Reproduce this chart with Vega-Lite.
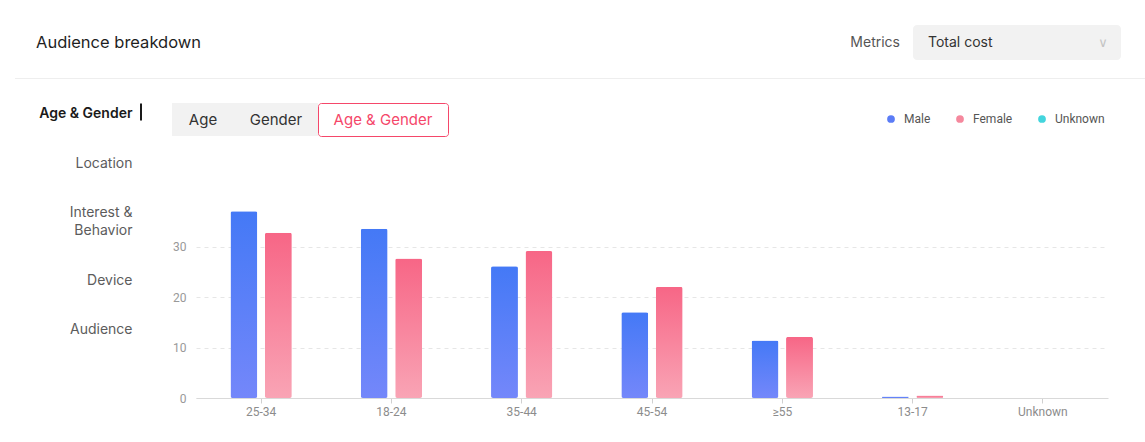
{
  "$schema": "https://vega.github.io/schema/vega-lite/v6.json",
  "background": "white",
  "padding": {"left": 15, "top": 25, "right": 0, "bottom": 0},
  "autosize": {"type": "pad"},
  "config": {
    "view": {"stroke": null},
    "font": "Inter",
    "axis": {"labelFont": "Roboto"},
    "legend": {"labelFont": "Roboto"}
  },
  "datasets": {
    "bars": [
      {"age": "25-34", "gender": "Male", "value": 37.0},
      {"age": "25-34", "gender": "Female", "value": 32.7},
      {"age": "18-24", "gender": "Male", "value": 33.5},
      {"age": "18-24", "gender": "Female", "value": 27.6},
      {"age": "35-44", "gender": "Male", "value": 26.1},
      {"age": "35-44", "gender": "Female", "value": 29.1},
      {"age": "45-54", "gender": "Male", "value": 17.0},
      {"age": "45-54", "gender": "Female", "value": 22.0},
      {"age": "≥55", "gender": "Male", "value": 11.4},
      {"age": "≥55", "gender": "Female", "value": 12.1},
      {"age": "13-17", "gender": "Male", "value": 0.3},
      {"age": "13-17", "gender": "Female", "value": 0.5},
      {"age": "Unknown", "gender": "Male", "value": 0},
      {"age": "Unknown", "gender": "Female", "value": 0}
    ],
    "nav": [
      {"item": "Age & Gender", "active": true},
      {"item": "Location", "active": false},
      {"item": "Interest & Behavior", "active": false},
      {"item": "Device", "active": false},
      {"item": "Audience", "active": false}
    ],
    "tabs": [
      {"tab": "Age", "active": false},
      {"tab": "Gender", "active": false},
      {"tab": "Age & Gender", "active": true}
    ]
  },
  "vconcat": [
    {
      "vconcat": [
        {
          "hconcat": [
            {
              "width": 42,
              "height": 35,
              "data": {"values": [{"label": "Audience breakdown"}]},
              "mark": {"type": "text", "align": "left", "baseline": "middle", "fontSize": 16.5, "font": "Inter", "color": "#1f1f1f"},
              "encoding": {"text": {"field": "label"}}
            },
            {
              "width": 208,
              "height": 35,
              "view": {"fill": "#F2F2F2", "stroke": null, "cornerRadius": 4},
              "title": {"text": "Metrics", "orient": "left", "angle": 0, "align": "left", "baseline": "middle", "fontSize": 14, "fontWeight": "normal", "color": "#555555", "font": "Inter", "offset": 13},
              "data": {"values": [{"metric": "Total cost", "arrow": "∨"}]},
              "layer": [
                {
                  "mark": {"type": "text", "align": "left", "baseline": "middle", "dx": -89, "fontSize": 14, "font": "Inter", "color": "#333333"},
                  "encoding": {"text": {"field": "metric"}}
                },
                {
                  "mark": {"type": "text", "align": "center", "baseline": "middle", "dx": 86, "fontSize": 13, "font": "DejaVu Sans", "color": "#C4C4C4"},
                  "encoding": {"text": {"field": "arrow"}}
                }
              ]
            }
          ],
          "spacing": 856,
          "bounds": "flush"
        },
        {
          "width": 1130,
          "height": 1,
          "view": {"fill": "#EEEEEE", "stroke": null},
          "data": {"values": []},
          "mark": "rect",
          "encoding": {}
        }
      ],
      "spacing": 18,
      "bounds": "full"
    },
    {
      "hconcat": [
        {
          "width": 95,
          "height": 234,
          "data": {"values": []},
          "mark": "rect",
          "encoding": {}
        },
        {
          "width": 2,
          "height": 234,
          "data": {"name": "nav"},
          "mark": {"type": "bar"},
          "encoding": {
            "y": {
              "field": "item",
              "type": "nominal",
              "sort": null,
              "scale": {"paddingInner": 0.685, "paddingOuter": 0.01},
              "axis": {
                "title": null,
                "domain": false,
                "ticks": false,
                "grid": false,
                "labelPadding": 8,
                "labelFont": "Inter",
                "labelFontSize": 14,
                "labelLineHeight": 18,
                "labelLimit": 200,
                "labelExpr": "datum.value == 'Interest & Behavior' ? ['Interest &', 'Behavior'] : datum.label",
                "labelOffset": {
                  "condition": [
                    {"test": "datum.value == 'Interest & Behavior'", "value": -7},
                    {"test": "datum.value == 'Location'", "value": -2},
                    {"test": "datum.value == 'Device'", "value": 7}
                  ],
                  "value": 2
                },
                "labelColor": {"condition": {"test": "datum.value == 'Age & Gender'", "value": "#1a1a1a"}, "value": "#5c5c5c"},
                "labelFontWeight": {"condition": {"test": "datum.value == 'Age & Gender'", "value": 600}, "value": "normal"}
              }
            },
            "color": {"condition": {"test": "datum.active", "value": "#1a1a1a"}, "value": "rgba(0,0,0,0)"}
          }
        },
        {
          "vconcat": [
            {
              "hconcat": [
                {
                  "width": 62,
                  "height": 33,
                  "view": {"fill": "#F2F2F2", "stroke": null},
                  "data": {"name": "tabs"},
                  "transform": [{"filter": "datum.tab == 'Age'"}],
                  "mark": {"type": "text", "fontSize": 15, "font": "Inter", "baseline": "middle"},
                  "encoding": {
                    "text": {"field": "tab"},
                    "color": {"condition": {"test": "datum.active", "value": "#F5476A"}, "value": "#333333"}
                  }
                },
                {
                  "width": 84,
                  "height": 33,
                  "view": {"fill": "#F2F2F2", "stroke": null},
                  "data": {"name": "tabs"},
                  "transform": [{"filter": "datum.tab == 'Gender'"}],
                  "mark": {"type": "text", "fontSize": 15, "font": "Inter", "baseline": "middle"},
                  "encoding": {
                    "text": {"field": "tab"},
                    "color": {"condition": {"test": "datum.active", "value": "#F5476A"}, "value": "#333333"}
                  }
                },
                {
                  "width": 130,
                  "height": 33,
                  "view": {"fill": "#FFFFFF", "stroke": "#F5476A", "strokeWidth": 1, "cornerRadius": 3},
                  "data": {"name": "tabs"},
                  "transform": [{"filter": "datum.tab == 'Age & Gender'"}],
                  "mark": {"type": "text", "fontSize": 15, "font": "Inter", "baseline": "middle"},
                  "encoding": {
                    "text": {"field": "tab"},
                    "color": {"condition": {"test": "datum.active", "value": "#F5476A"}, "value": "#333333"}
                  }
                }
              ],
              "spacing": 0,
              "bounds": "flush"
            },
            {
              "hconcat": [
                {
                  "width": 24,
                  "height": 202,
                  "data": {"values": []},
                  "mark": "rect",
                  "encoding": {}
                },
                {
                  "width": 912,
                  "height": 202,
                  "data": {"name": "bars"},
                  "encoding": {
                    "x": {
                      "field": "age",
                      "type": "nominal",
                      "sort": ["25-34", "18-24", "35-44", "45-54", "≥55", "13-17", "Unknown"],
                      "scale": {"paddingInner": 0, "paddingOuter": 0},
                      "axis": {
                        "title": null,
                        "labelAngle": 0,
                        "grid": false,
                        "bandPosition": 0.5,
                        "domainColor": "#D9D9D9",
                        "tickColor": "#D0D0D0",
                        "tickSize": 5,
                        "labelColor": "#8C8C8C",
                        "labelFontSize": 12,
                        "labelPadding": 3
                      }
                    },
                    "xOffset": {
                      "field": "gender",
                      "type": "nominal",
                      "scale": {"domain": ["Male", "Female"], "paddingInner": 0.21875, "paddingOuter": 1.145}
                    },
                    "y": {
                      "field": "value",
                      "type": "quantitative",
                      "scale": {"domain": [0, 40], "nice": false},
                      "axis": {
                        "title": null,
                        "values": [0, 10, 20, 30],
                        "domain": false,
                        "ticks": false,
                        "labelPadding": 10,
                        "labelColor": "#999999",
                        "labelFontSize": 12,
                        "gridColor": "#E6E6E6",
                        "gridDash": [4, 4]
                      }
                    }
                  },
                  "layer": [
                    {
                      "transform": [{"filter": "datum.gender == 'Male'"}],
                      "mark": {
                        "type": "bar",
                        "cornerRadius": 2,
                        "color": {"gradient": "linear", "x1": 0, "y1": 0, "x2": 0, "y2": 1, "stops": [{"offset": 0, "color": "#4479F6"}, {"offset": 1, "color": "#7487FA"}]}
                      }
                    },
                    {
                      "transform": [{"filter": "datum.gender == 'Female'"}],
                      "mark": {
                        "type": "bar",
                        "cornerRadius": 2,
                        "color": {"gradient": "linear", "x1": 0, "y1": 0, "x2": 0, "y2": 1, "stops": [{"offset": 0, "color": "#F76686"}, {"offset": 1, "color": "#F9A4B5"}]}
                      }
                    },
                    {
                      "mark": {"type": "point", "filled": true, "opacity": 0},
                      "encoding": {
                        "color": {
                          "field": "gender",
                          "type": "nominal",
                          "scale": {"domain": ["Male", "Female", "Unknown"], "range": ["#5B7CF6", "#F5889D", "#43D5DD"]},
                          "legend": {
                            "orient": "none",
                            "legendX": 870,
                            "legendY": 88,
                            "direction": "horizontal",
                            "title": null,
                            "symbolType": "circle",
                            "symbolSize": 60,
                            "symbolOpacity": 1,
                            "symbolStrokeWidth": 0,
                            "labelFontSize": 12,
                            "labelColor": "#555555",
                            "labelOffset": 7,
                            "columnPadding": 23,
                            "padding": 0
                          }
                        }
                      }
                    }
                  ]
                }
              ],
              "spacing": 0,
              "bounds": "flush"
            }
          ],
          "spacing": 59,
          "bounds": "full"
        }
      ],
      "spacing": 30,
      "bounds": "flush"
    }
  ],
  "spacing": 23,
  "bounds": "full"
}
